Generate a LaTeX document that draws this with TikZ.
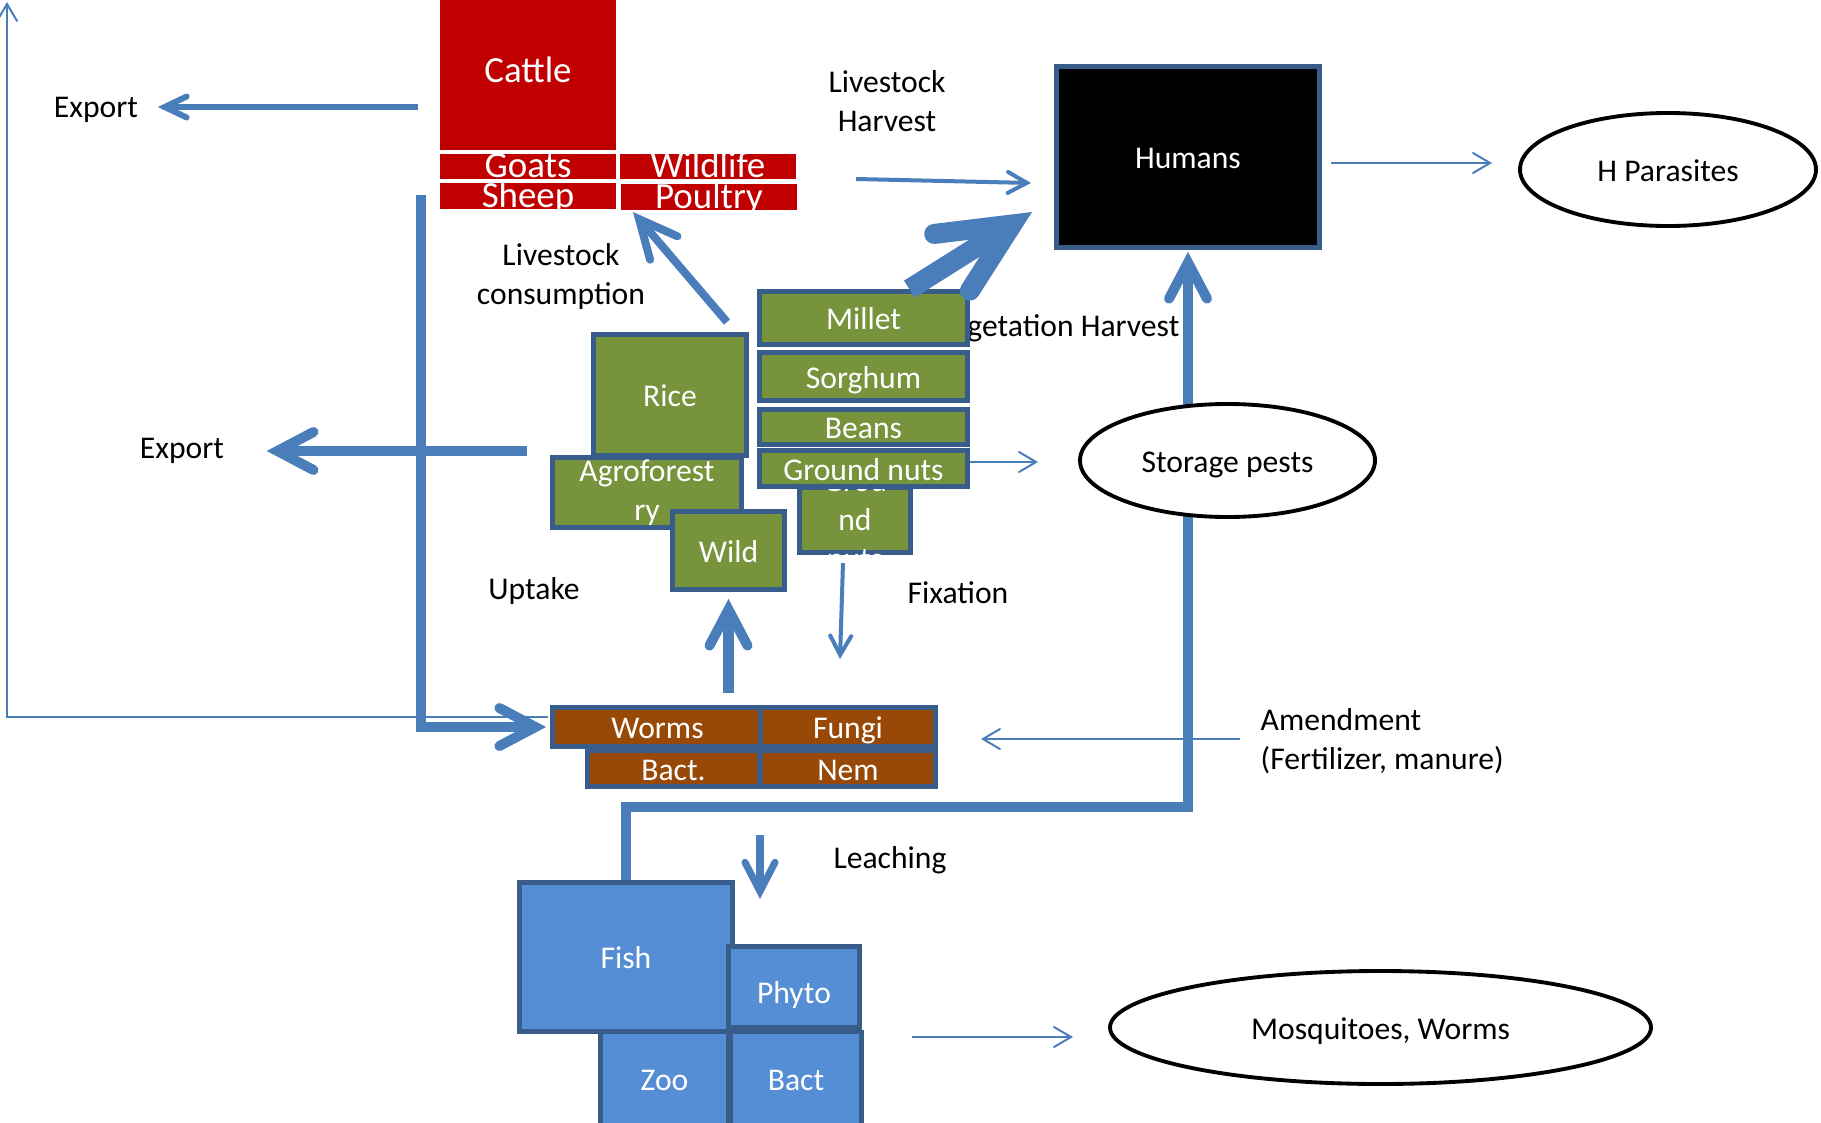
\documentclass[tikz,border=0pt]{standalone}
\usepackage{fontspec}
\setmainfont{Carlito}
\usepackage{tikz}
\usetikzlibrary{shapes.geometric,arrows.meta}

\definecolor{stockred}{HTML}{C00000}
\definecolor{cropgreen}{HTML}{77933C}
\definecolor{soilbrown}{HTML}{984807}
\definecolor{waterblue}{HTML}{558ED5}
\definecolor{rimblue}{HTML}{385D8A}
\definecolor{flowblue}{HTML}{4A7EBB}

\begin{document}
\begin{tikzpicture}
		[stockbox/.style={rectangle,fill=stockred,text=white,inner sep=0pt,
font=\fontsize{10.5}{12}\selectfont,text height=6.3pt,text depth=0pt},
		pool/.style={rectangle,draw=rimblue,line width=1.35pt,text=white,inner sep=0pt,
font=\fontsize{9}{11.1}\selectfont,text height=7.8pt,text depth=1.2pt},
		cropbox/.style={pool,fill=cropgreen},
		soilbox/.style={pool,fill=soilbrown},
		waterbox/.style={pool,fill=waterblue},
		poollabel/.style={text=white,align=center,inner sep=0pt,font=\fontsize{9}{11.1}\selectfont},
		pest/.style={ellipse,draw=black,fill=white,line width=1.1pt,inner sep=0pt,
minimum height=1.13cm,font=\fontsize{9}{11.1}\selectfont,text height=7.8pt,text depth=1.2pt},
		textstyle/.style={inner sep=0pt,align=center,font=\fontsize{9}{11.1}\selectfont},
		barb/.style 2 args={>={Straight Barb[length=#1,width=#2,line cap=round,line join=miter]}},
		flow/.style={->,draw=flowblue,line width=#1},
		thinflow/.style={flow=0.57pt,barb={0.17cm}{0.2cm}},
		midflow/.style={flow=1.14pt,barb={0.19cm}{0.21cm}},
		thickflow/.style={flow=2.85pt,barb={0.36cm}{0.38cm}}]
		\useasboundingbox[fill=white] (0, 0) rectangle (18.21, -11.23);
		\node at (0.96, -1.10) (exporta) [textstyle] {Export};
		\node at (1.82, -4.51) (exportb) [textstyle] {Export};
		\node at (8.87, -1.01) (lharvest) [textstyle] {Livestock\\Harvest};
		\node at (5.61, -2.765) (lconsume) [textstyle] {Livestock\\consumption};
		\node at (11.80, -3.28) (vharvest) [textstyle,anchor=east] {Vegetation Harvest};
		\node at (5.34, -5.91) (uptake) [textstyle] {Uptake};
		\node at (9.58, -5.93) (fixation) [textstyle] {Fixation};
		\node at (12.60, -7.415) (amendment) [textstyle,anchor=west,align=left] {Amendment\\(Fertilizer, manure)};
		\node at (8.90, -8.60) (leaching) [textstyle] {Leaching};
		\node at (5.28, -0.75) (cattle) [stockbox,text height=4.3pt,minimum width=1.76cm,minimum height=1.5cm] {Cattle};
		\node at (5.28, -1.665) (goats) [stockbox,minimum width=1.76cm,minimum height=0.25cm] {Goats};
		\node at (7.08, -1.665) (wildlife) [stockbox,minimum width=1.76cm,minimum height=0.25cm] {Wildlife};
		\node at (5.28, -1.96) (sheep) [stockbox,minimum width=1.76cm,minimum height=0.26cm] {Sheep};
		\node at (7.09, -1.97) (poultry) [stockbox,minimum width=1.76cm,minimum height=0.26cm] {Poultry};
		\node at (11.88, -1.57) (humans) [pool,fill=black,minimum width=2.63cm,minimum height=1.81cm] {Humans};
		\node at (6.70, -3.95) (rice) [cropbox,minimum width=1.53cm,minimum height=1.21cm] {Rice};
		\node at (6.47, -4.925) (agro) [cropbox,minimum width=1.89cm,minimum height=0.70cm] {};
		\node at (agro) (agrotext) [poollabel] {Agroforest\\ry};
		\node at (7.285, -5.505) (wild) [cropbox,minimum width=1.12cm,minimum height=0.78cm] {Wild};
		\node at (8.55, -5.20) (grou) [cropbox,minimum width=1.11cm,minimum height=0.65cm] {};
		\node at (grou) (groutext) [poollabel] {Grou\\nd\\nuts};
		\node at (8.635, -3.18) (millet) [cropbox,minimum width=2.08cm,minimum height=0.53cm] {Millet};
		\node at (8.635, -3.765) (sorghum) [cropbox,minimum width=2.08cm,minimum height=0.48cm] {Sorghum};
		\node at (8.635, -4.27) (beans) [cropbox,minimum width=2.08cm,minimum height=0.35cm] {Beans};
		\node at (8.635, -4.685) (groundnuts) [cropbox,minimum width=2.08cm,minimum height=0.36cm] {Ground nuts};
		\node at (6.575, -7.27) (worms) [soilbox,minimum width=2.10cm,minimum height=0.39cm] {Worms};
		\node at (8.48, -7.27) (fungi) [soilbox,minimum width=1.75cm,minimum height=0.39cm] {Fungi};
		\node at (6.735, -7.685) (bactsoil) [soilbox,minimum width=1.72cm,minimum height=0.36cm] {Bact.};
		\node at (8.48, -7.685) (nem) [soilbox,minimum width=1.75cm,minimum height=0.36cm] {Nem};
		\node at (6.26, -9.57) (fish) [waterbox,minimum width=2.13cm,minimum height=1.49cm] {Fish};
		\node at (7.94, -9.87) (phyto) [waterbox,text height=10.4pt,minimum width=1.31cm,minimum height=0.81cm] {Phyto};
		\node at (6.645, -10.79) (zoo) [waterbox,minimum width=1.28cm,minimum height=0.94cm] {Zoo};
		\node at (7.96, -10.79) (bactwater) [waterbox,minimum width=1.31cm,minimum height=0.94cm] {Bact};
		\coordinate (leftout) at (5.48, -7.17);
		\coordinate (lefttop) at (0.07, -0.02);
		\coordinate (feedtop) at (4.21, -1.95);
		\coordinate (cattleout) at (4.18, -1.07);
		\coordinate (cropout) at (5.27, -4.51);
		\coordinate (lhfrom) at (8.56, -1.79);
		\coordinate (lhto) at (10.31, -1.83);
		\coordinate (vegto) at (10.32, -2.12);
		\coordinate (consfrom) at (7.27, -3.22);
		\coordinate (consto) at (6.33, -2.12);
		\coordinate (fixfrom) at (8.43, -5.63);
		\coordinate (fixto) at (8.40, -6.59);
		\coordinate (leachfrom) at (7.60, -8.35);
		\coordinate (leachto) at (7.60, -8.99);
		\coordinate (pondlevel) at (9.00, -8.07);
		\coordinate (storefrom) at (9.70, -4.62);
		\coordinate (storeto) at (10.38, -4.62);
		\coordinate (amendfrom) at (12.40, -7.39);
		\coordinate (amendto) at (9.81, -7.39);
		\coordinate (hpfrom) at (13.31, -1.63);
		\coordinate (hpto) at (14.92, -1.63);
		\coordinate (mosqfrom) at (9.12, -10.37);
		\coordinate (mosqto) at (10.73, -10.37);
		\draw[thinflow] (leftout) -| (lefttop);
		\draw[thickflow,shorten >=0.04cm] (feedtop) |- (worms.west);
		\draw[flow=1.7pt,barb={0.22cm}{0.21cm},shorten >=0.19cm] (cattleout) -- (exporta.east |- cattleout);
		\draw[thickflow,shorten >=0.42cm] (cropout) -- (exportb.east |- cropout);
		\draw[midflow] (lhfrom) -- (lhto);
		\draw[flow=5.7pt,barb={0.71cm}{0.67cm}] (millet) -- (vegto);
		\draw[flow=2.28pt,barb={0.38cm}{0.36cm}] (consfrom) -- (consto);
		\draw[thickflow,shorten <=0.12cm,shorten >=0.07cm] (wild.south |- worms.north) -- (wild.south);
		\draw[midflow] (fixfrom) -- (fixto);
		\draw[flow=2pt,barb={0.29cm}{0.30cm}] (leachfrom) -- (leachto);
		\draw[thickflow,shorten >=0.02cm] (fish.north) |- (pondlevel) -| (humans.south);
		\draw[thinflow] (storefrom) -- (storeto);
		\draw[thinflow] (amendfrom) -- (amendto);
		\draw[thinflow] (hpfrom) -- (hpto);
		\draw[thinflow] (mosqfrom) -- (mosqto);
		\node at (16.68, -1.695) (hparasites) [pest,minimum width=2.96cm] {H Parasites};
		\node at (12.275, -4.605) (storage) [pest,minimum width=2.95cm] {Storage pests};
		\node at (13.805, -10.275) (mosquitoes) [pest,minimum width=5.41cm] {Mosquitoes, Worms};
	\end{tikzpicture}
\end{document}
